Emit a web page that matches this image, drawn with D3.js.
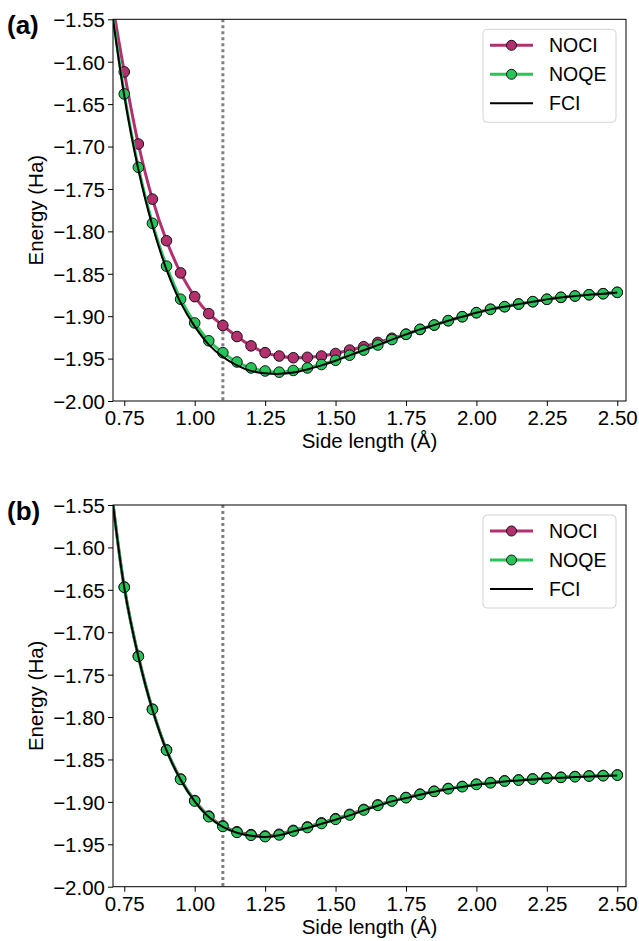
<!DOCTYPE html>
<html>
<head>
<meta charset="utf-8">
<script src="https://cdn.jsdelivr.net/npm/d3@7/dist/d3.min.js"></script>
<style>
  html, body { margin: 0; padding: 0; background: #fff; }
  svg text { font-family: "Liberation Sans", Arial, Helvetica, sans-serif; fill: #000; }
</style>
</head>
<body>
<svg id="chart" width="639" height="941"></svg>
<script>
// Side lengths (Å) at which energies were computed
const sideLength = [0.70, 0.75, 0.80, 0.85, 0.90, 0.95, 1.00, 1.05, 1.10, 1.15, 1.20, 1.25,
  1.30, 1.35, 1.40, 1.45, 1.50, 1.55, 1.60, 1.65, 1.70, 1.75, 1.80, 1.85, 1.90, 1.95,
  2.00, 2.05, 2.10, 2.15, 2.20, 2.25, 2.30, 2.35, 2.40, 2.45, 2.50];

// Panel (a) energies (Ha)
const nociA = [-1.515, -1.612, -1.697, -1.762, -1.811, -1.849, -1.877, -1.897, -1.911, -1.924, -1.935, -1.943,
  -1.947, -1.949, -1.9485, -1.947, -1.944, -1.940, -1.936, -1.931, -1.926, -1.9212, -1.9157, -1.9105, -1.9053, -1.9006,
  -1.8959, -1.8919, -1.8888, -1.8857, -1.8829, -1.8801, -1.8778, -1.8762, -1.8747, -1.8735, -1.8719];
const noqeA = [-1.522, -1.638, -1.7245, -1.7905, -1.841, -1.880, -1.908, -1.929, -1.943, -1.954, -1.961, -1.9646,
  -1.966, -1.964, -1.961, -1.957, -1.952, -1.946, -1.940, -1.934, -1.9276, -1.9214, -1.9155, -1.9104, -1.9053, -1.9006,
  -1.8959, -1.8919, -1.8888, -1.8857, -1.8829, -1.8801, -1.8778, -1.8762, -1.8747, -1.8735, -1.8719];
const fciA = [-1.525, -1.640, -1.727, -1.7935, -1.845, -1.884, -1.912, -1.9335, -1.948, -1.958, -1.9645, -1.9673,
  -1.968, -1.9665, -1.9628, -1.958, -1.9525, -1.9462, -1.9402, -1.9341, -1.9277, -1.9215, -1.9156, -1.9105, -1.9054, -1.9007,
  -1.8960, -1.8920, -1.8889, -1.8858, -1.8830, -1.8802, -1.8779, -1.8763, -1.8748, -1.8736, -1.8720];

// Panel (b) energies (Ha)
const nociB = [-1.5197, -1.6467, -1.7282, -1.7907, -1.8386, -1.8730, -1.8984, -1.9167, -1.9282, -1.9352, -1.9386, -1.9402,
  -1.9382, -1.9336, -1.9295, -1.9247, -1.9198, -1.9147, -1.9089, -1.9035, -1.8986, -1.8948, -1.8909, -1.8874, -1.8842, -1.8818,
  -1.8791, -1.8772, -1.8752, -1.8741, -1.8729, -1.8717, -1.8709, -1.8701, -1.8693, -1.8689, -1.8682];
const noqeB = [-1.520, -1.647, -1.7285, -1.791, -1.839, -1.8735, -1.899, -1.9175, -1.929, -1.936, -1.9394, -1.941,
  -1.939, -1.9344, -1.9303, -1.9255, -1.9206, -1.9155, -1.9096, -1.9041, -1.899, -1.8951, -1.8912, -1.8877, -1.8845, -1.8821,
  -1.8794, -1.8775, -1.8755, -1.8744, -1.8732, -1.872, -1.8712, -1.8704, -1.8696, -1.8692, -1.8685];
const fciB = [-1.5204, -1.6474, -1.7289, -1.7914, -1.8394, -1.8739, -1.8994, -1.9179, -1.9294, -1.9364, -1.9398, -1.9414,
  -1.9394, -1.9348, -1.9307, -1.9259, -1.9210, -1.9159, -1.9100, -1.9045, -1.8994, -1.8955, -1.8916, -1.8881, -1.8849, -1.8825,
  -1.8798, -1.8779, -1.8759, -1.8748, -1.8736, -1.8724, -1.8716, -1.8708, -1.8700, -1.8696, -1.8689];

// Axis ticks and reference geometry
const xTicks = [0.75, 1.00, 1.25, 1.50, 1.75, 2.00, 2.25, 2.50];
const yTicks = [-1.55, -1.60, -1.65, -1.70, -1.75, -1.80, -1.85, -1.90, -1.95, -2.00];
const xDomain = [0.71, 2.531];
const yDomain = [-2.00, -1.55];
const markerThreshold = 0.74;   // first sampled point shown with a marker
const refSideLength = 1.10;     // dotted reference line

const seriesNames = ["NOCI", "NOQE", "FCI"];
const colors = { NOCI: "#b3306f", NOQE: "#27c45a", FCI: "#000000" };

const panels = [
  { label: "(a)", top: 19.3, noci: nociA, noqe: noqeA, fci: fciA },
  { label: "(b)", top: 505, noci: nociB, noqe: noqeB, fci: fciB }
];

const svg = d3.select("#chart");
const left = 113, right = 626, plotH = 381.7;
const fmt = v => d3.format(".2f")(v).replace("-", "\u2212");
const tickFont = "20.5px", labelFont = "20.5px", legendFont = "19.5px";

panels.forEach((p, i) => {
  const top = p.top, bottom = top + plotH;
  const x = d3.scaleLinear().domain(xDomain).range([left, right]);
  const y = d3.scaleLinear().domain(yDomain).range([bottom, top]);
  const g = svg.append("g");

  const clipId = "clip" + i;
  g.append("clipPath").attr("id", clipId)
    .append("rect").attr("x", left).attr("y", top).attr("width", right - left).attr("height", plotH);

  const plot = g.append("g").attr("clip-path", `url(#${clipId})`);

  // dotted reference line
  plot.append("line")
    .attr("x1", x(refSideLength)).attr("x2", x(refSideLength))
    .attr("y1", top).attr("y2", bottom)
    .attr("stroke", "#808080").attr("stroke-width", 3)
    .attr("stroke-dasharray", "3,3");

  const line = d3.line().x(d => x(d[0])).y(d => y(d[1])).curve(d3.curveCatmullRom.alpha(0.5));
  const pts = arr => sideLength.map((s, k) => [s, arr[k]]);

  const drawSeries = (arr, color) => {
    plot.append("path").datum(pts(arr))
      .attr("d", line).attr("fill", "none")
      .attr("stroke", color).attr("stroke-width", 3);
    plot.append("g").selectAll("circle")
      .data(pts(arr).filter(d => d[0] > markerThreshold))
      .join("circle")
      .attr("cx", d => x(d[0])).attr("cy", d => y(d[1]))
      .attr("r", 5.3).attr("fill", color)
      .attr("stroke", "#111").attr("stroke-width", 1);
  };
  drawSeries(p.noci, colors.NOCI);
  drawSeries(p.noqe, colors.NOQE);

  plot.append("path").datum(pts(p.fci))
    .attr("d", line).attr("fill", "none")
    .attr("stroke", colors.FCI).attr("stroke-width", 2);

  // axes
  const xAxis = d3.axisBottom(x).tickValues(xTicks).tickFormat(d3.format(".2f")).tickSizeOuter(0).tickSize(5).tickPadding(3);
  const yAxis = d3.axisLeft(y).tickValues(yTicks).tickFormat(fmt).tickSizeOuter(0).tickSize(5).tickPadding(3);
  const gx = g.append("g").attr("transform", `translate(0,${bottom})`).call(xAxis);
  const gy = g.append("g").attr("transform", `translate(${left},0)`).call(yAxis);
  [gx, gy].forEach(a => {
    a.select(".domain").remove();
    a.selectAll(".tick line").attr("stroke", "#000").attr("stroke-width", 1);
    a.selectAll(".tick text").style("font-size", tickFont);
  });
  gx.selectAll(".tick text").attr("dy", "0.8em");
  gy.selectAll(".tick text").attr("dy", "0.36em");

  // frame
  g.append("rect").attr("x", left).attr("y", top).attr("width", right - left).attr("height", plotH)
    .attr("fill", "none").attr("stroke", "#000").attr("stroke-width", 1);

  // labels
  g.append("text").attr("x", (left + right) / 2).attr("y", bottom + 47)
    .attr("text-anchor", "middle").style("font-size", labelFont).text("Side length (Å)");
  g.append("text").attr("transform", `translate(43,${(top + bottom) / 2}) rotate(-90)`)
    .attr("text-anchor", "middle").style("font-size", labelFont).text("Energy (Ha)");
  g.append("text").attr("x", 7).attr("y", top + 15)
    .style("font-size", "26px").style("font-weight", "bold").text(p.label);

  // legend
  const lg = g.append("g").attr("transform", `translate(483,${top + 10})`);
  lg.append("rect").attr("width", 133).attr("height", 93).attr("rx", 4)
    .attr("fill", "#fff").attr("fill-opacity", 0.8).attr("stroke", "#d4d4d4");
  seriesNames.forEach((name, k) => {
    const yy = 16 + k * 29;
    lg.append("line").attr("x1", 7).attr("x2", 50).attr("y1", yy).attr("y2", yy)
      .attr("stroke", colors[name]).attr("stroke-width", name === "FCI" ? 2 : 3);
    if (name !== "FCI") {
      lg.append("circle").attr("cx", 28.5).attr("cy", yy).attr("r", 5)
        .attr("fill", colors[name]).attr("stroke", "#111").attr("stroke-width", 1);
    }
    lg.append("text").attr("x", 66).attr("y", yy).attr("dy", "0.36em")
      .style("font-size", legendFont).text(name);
  });
});
</script>
</body>
</html>
